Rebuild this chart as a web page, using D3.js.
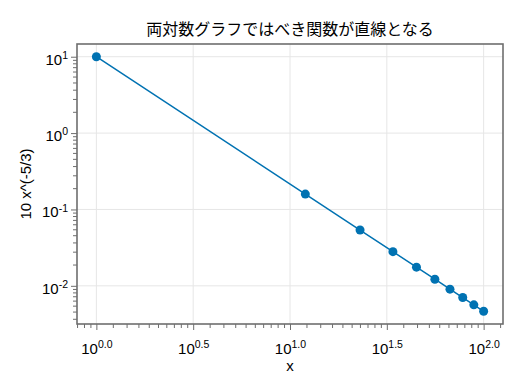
<!DOCTYPE html>
<html>
<head>
<meta charset="utf-8">
<script src="https://cdn.jsdelivr.net/npm/d3@7"></script>
<style>
  body { margin: 0; background: #fff; }
  svg { font-family: "Liberation Sans", "Noto Sans CJK JP", sans-serif; }
</style>
</head>
<body>
<svg id="chart"></svg>
<script>
const width = 520,
  height = 390;

// data
const xValues = [1, 12, 23, 34, 45, 56, 67, 78, 89, 100];
const yValues = [10, 0.159, 0.0538, 0.028, 0.01755, 0.0122, 0.00905, 0.00702, 0.00564, 0.00464];

// tick exponents and labels
const xTickExps = [0, 0.5, 1, 1.5, 2];
const xTickLabels = ["0.0", "0.5", "1.0", "1.5", "2.0"];
const yTickExps = [-2, -1, 0, 1];
const yTickLabels = ["-2", "-1", "0", "1"];

const titleText = "両対数グラフではべき関数が直線となる";
const xLabel = "x";
const yLabel = "10 x^(-5/3)";

const margin = { left: 77, right: 17, top: 44, bottom: 66 };

const svg = d3.select("#chart").attr("width", width).attr("height", height);

const x = d3
  .scaleLog()
  .domain([Math.pow(10, -0.1), Math.pow(10, 2.1)])
  .range([margin.left, width - margin.right]);

const y = d3
  .scaleLog()
  .domain([Math.pow(10, -2.5), Math.pow(10, 7 / 6)])
  .range([height - margin.bottom, margin.top]);

const spine = "#6e6e6e";

// minor ticks: 9 linear steps between neighbouring majors
function minors(exps, domain) {
  const step = exps[1] - exps[0];
  const all = [exps[0] - step, ...exps, exps[exps.length - 1] + step];
  const out = [];
  for (let i = 0; i < all.length - 1; i++) {
    const a = Math.pow(10, all[i]),
      b = Math.pow(10, all[i + 1]);
    for (let k = 1; k < 10; k++) {
      const v = a + ((b - a) * k) / 10;
      if (v >= domain[0] && v <= domain[1]) out.push(v);
    }
  }
  return out;
}

const xMajors = xTickExps.map((e) => Math.pow(10, e));
const yMajors = yTickExps.map((e) => Math.pow(10, e));

// grid
svg
  .append("g")
  .selectAll("line")
  .data(xMajors)
  .join("line")
  .attr("x1", (d) => x(d))
  .attr("x2", (d) => x(d))
  .attr("y1", margin.top)
  .attr("y2", height - margin.bottom)
  .attr("stroke", "#e6e6e6");

svg
  .append("g")
  .selectAll("line")
  .data(yMajors)
  .join("line")
  .attr("x1", margin.left)
  .attr("x2", width - margin.right)
  .attr("y1", (d) => y(d))
  .attr("y2", (d) => y(d))
  .attr("stroke", "#e6e6e6");

// minor ticks
svg
  .append("g")
  .attr("transform", `translate(0,${height - margin.bottom})`)
  .call(d3.axisBottom(x).tickValues(minors(xTickExps, x.domain())).tickSize(4).tickFormat(""))
  .call((g) => g.select(".domain").remove())
  .call((g) => g.selectAll(".tick line").attr("stroke", spine));

svg
  .append("g")
  .attr("transform", `translate(${margin.left},0)`)
  .call(d3.axisLeft(y).tickValues(minors(yTickExps, y.domain())).tickSize(4).tickFormat(""))
  .call((g) => g.select(".domain").remove())
  .call((g) => g.selectAll(".tick line").attr("stroke", spine));

// major ticks with 10^n labels
function supLabels(g, labels) {
  g.attr("font-family", null).attr("font-size", 15);
  g.selectAll(".tick text").attr("fill", "#000").each(function (d, i) {
    const t = d3.select(this).text(null);
    t.append("tspan").text("10");
    t.append("tspan").attr("dy", "-0.55em").attr("font-size", 10.5).text(labels[i]);
  });
}

svg
  .append("g")
  .attr("transform", `translate(0,${height - margin.bottom})`)
  .call(d3.axisBottom(x).tickValues(xMajors).tickSize(6).tickPadding(8))
  .call((g) => g.select(".domain").remove())
  .call((g) => g.selectAll(".tick line").attr("stroke", spine))
  .call((g) => supLabels(g, xTickLabels))
  .call((g) => g.selectAll(".tick text").attr("dy", "1.05em"));

svg
  .append("g")
  .attr("transform", `translate(${margin.left},0)`)
  .call(d3.axisLeft(y).tickValues(yMajors).tickSize(6).tickPadding(3))
  .call((g) => g.select(".domain").remove())
  .call((g) => g.selectAll(".tick line").attr("stroke", spine))
  .call((g) => supLabels(g, yTickLabels))
  .call((g) => g.selectAll(".tick text").attr("dy", "0.5em"));

// frame
svg
  .append("rect")
  .attr("x", margin.left)
  .attr("y", margin.top)
  .attr("width", width - margin.left - margin.right)
  .attr("height", height - margin.top - margin.bottom)
  .attr("fill", "none")
  .attr("stroke", spine)
  .attr("stroke-width", 1.6);

// line + markers
const pts = xValues.map((v, i) => [v, yValues[i]]);
svg
  .append("path")
  .datum(pts)
  .attr("fill", "none")
  .attr("stroke", "#0072b2")
  .attr("stroke-width", 1.5)
  .attr("d", d3.line().x((d) => x(d[0])).y((d) => y(d[1])));

svg
  .append("g")
  .selectAll("circle")
  .data(pts)
  .join("circle")
  .attr("cx", (d) => x(d[0]))
  .attr("cy", (d) => y(d[1]))
  .attr("r", 4.5)
  .attr("fill", "#0072b2");

// titles
const cx = (margin.left + width - margin.right) / 2;
svg
  .append("text")
  .attr("x", cx)
  .attr("y", 35)
  .attr("text-anchor", "middle")
  .attr("font-size", 16)
  .text(titleText);

svg
  .append("text")
  .attr("x", cx)
  .attr("y", 371)
  .attr("text-anchor", "middle")
  .attr("font-size", 15)
  .text(xLabel);

svg
  .append("text")
  .attr("transform", `translate(31,${(margin.top + height - margin.bottom) / 2}) rotate(-90)`)
  .attr("text-anchor", "middle")
  .attr("font-size", 15)
  .text(yLabel);
</script>
</body>
</html>
